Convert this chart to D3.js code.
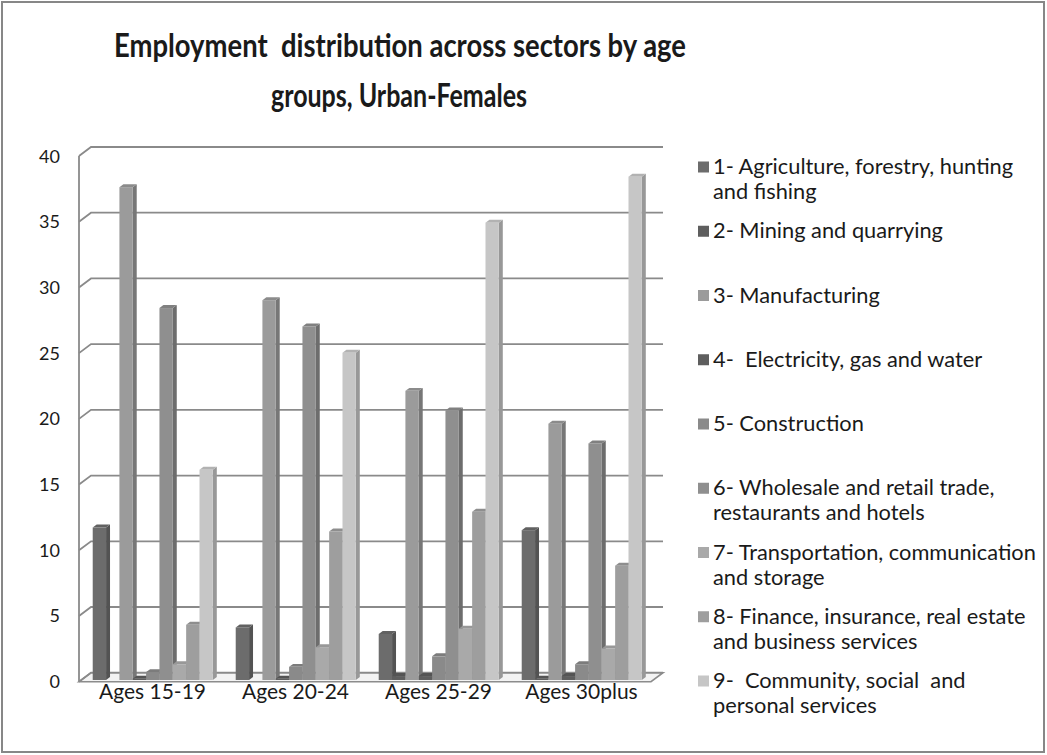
<!DOCTYPE html>
<html>
<head>
<meta charset="utf-8">
<script src="https://cdn.jsdelivr.net/npm/d3@7"></script>
<style>
  html, body { margin: 0; padding: 0; background: #ffffff; }
  svg { display: block; }
  text { font-family: Lato, "Open Sans", "DejaVu Sans", sans-serif; fill: #1a1a1a; white-space: pre; }
</style>
</head>
<body>
<svg id="chart" width="1047" height="755"></svg>
<script>
// Age groups along the x axis
const categories = ["Ages 15-19", "Ages 20-24", "Ages 25-29", "Ages 30plus"];

// Sector names as shown in the legend (one entry per wrapped line)
const sectorLabels = [
  ["1- Agriculture, forestry, hunting", "and fishing"],
  ["2- Mining and quarrying"],
  ["3- Manufacturing"],
  ["4-  Electricity, gas and water"],
  ["5- Construction"],
  ["6- Wholesale and retail trade,", "restaurants and hotels"],
  ["7- Transportation, communication", "and storage"],
  ["8- Finance, insurance, real estate", "and business services"],
  ["9-  Community, social  and", "personal services"]
];

// Share of employment (%) per sector, one value per age group
const agriculture   = [11.6,  4.0,  3.5, 11.4];
const mining        = [ 0.0,  0.0,  0.3,  0.1];
const manufacturing = [37.5, 28.9, 22.0, 19.5];
const electricity   = [ 0.1,  0.1,  0.3,  0.3];
const construction  = [ 0.6,  1.0,  1.8,  1.2];
const wholesale     = [28.3, 26.9, 20.5, 18.0];
const transport     = [ 1.2,  2.5,  3.9,  2.4];
const finance       = [ 4.2, 11.3, 12.8,  8.7];
const community     = [16.0, 24.9, 34.8, 38.3];

const series = [agriculture, mining, manufacturing, electricity, construction,
                wholesale, transport, finance, community];

// Value axis ticks
const yTicks = [0, 5, 10, 15, 20, 25, 30, 35, 40];

// Grey shades for each sector (front face)
const colors = ["#6c6c6c", "#5e5e5e", "#9b9b9b", "#5e5e5e", "#8a8a8a",
                "#8f8f8f", "#a9a9a9", "#9e9e9e", "#c6c6c6"];

const svg = d3.select("#chart");

// Outer chart frame
svg.append("rect")
  .attr("x", 2).attr("y", 2).attr("width", 1042).attr("height", 750)
  .attr("fill", "#ffffff").attr("stroke", "#878787").attr("stroke-width", 2);

// Title
const title = svg.append("g");
title.append("text").attr("x", 400).attr("y", 57).attr("text-anchor", "middle")
  .attr("font-size", 33).attr("font-weight", 700)
  .attr("textLength", 572).attr("lengthAdjust", "spacingAndGlyphs")
  .text("Employment  distribution across sectors by age");
title.append("text").attr("x", 399).attr("y", 107).attr("text-anchor", "middle")
  .attr("font-size", 33).attr("font-weight", 700)
  .attr("textLength", 256).attr("lengthAdjust", "spacingAndGlyphs")
  .text("groups, Urban-Females");

// Oblique 3-D projection: the floor/walls recede by (DX, DY)
const DX = 12, DY = -9;
const x0 = 79, x1 = 651;

const y = d3.scaleLinear().domain([0, 40]).range([681.7, 156]);
const x = d3.scaleBand().domain(categories).range([x0, x1])
  .paddingInner(0.16).paddingOuter(0.08);
const xs = d3.scaleBand().domain(d3.range(series.length)).range([0, x.bandwidth()]);

const walls = svg.append("g");

// Floor
walls.append("polygon")
  .attr("points", [[x0, y(0)], [x1, y(0)], [x1 + DX, y(0) + DY], [x0 + DX, y(0) + DY]].join(" "))
  .attr("fill", "#f3f3f3").attr("stroke", "#8c8c8c").attr("stroke-width", 1.6);

// Gridlines: diagonal on the side wall, horizontal on the back wall
yTicks.forEach(v => {
  const yf = y(v);
  walls.append("polyline")
    .attr("points", [[x0, yf], [x0 + DX, yf + DY], [x1 + DX, yf + DY]].join(" "))
    .attr("fill", "none").attr("stroke", "#8a8a8a").attr("stroke-width", 1.8);
});
// Front edge of the side wall
walls.append("line")
  .attr("x1", x0).attr("x2", x0).attr("y1", y(40)).attr("y2", y(0))
  .attr("stroke", "#8a8a8a").attr("stroke-width", 1.8);

// Y-axis labels
svg.append("g").selectAll("text").data(yTicks).join("text")
  .attr("x", 60).attr("y", d => y(d) + 6.5)
  .attr("text-anchor", "end").attr("font-size", 18)
  .text(d => d);

// Category labels
svg.append("g").selectAll("text").data(categories).join("text")
  .attr("x", d => x(d) + x.bandwidth() / 2 + 2).attr("y", 699)
  .attr("text-anchor", "middle").attr("font-size", 21)
  .text(d => d);

// Bars: front face, right side face and top face
const f0 = 0.19, f1 = 0.52;
const bx = f0 * DX, by = f0 * DY;
const dd = (f1 - f0) * DX, dv = (f1 - f0) * DY;

function shade(c, k) {
  const col = d3.color(c);
  return k < 0 ? col.darker(-k).formatHex() : col.brighter(k).formatHex();
}

const bars = svg.append("g");
categories.forEach((cat, ci) => {
  series.forEach((vals, si) => {
    const v = vals[ci];
    if (!(v > 0)) return;
    const left = x(cat) + xs(si) + bx;
    const right = left + xs.bandwidth();
    const top = y(v) + by;
    const base = y(0) + by;
    const g = bars.append("g");
    g.append("polygon")
      .attr("points", [[right, base], [right, top], [right + dd, top + dv], [right + dd, base + dv]].join(" "))
      .attr("fill", shade(colors[si], -0.75));
    g.append("polygon")
      .attr("points", [[left, top], [right, top], [right + dd, top + dv], [left + dd, top + dv]].join(" "))
      .attr("fill", shade(colors[si], -0.3));
    g.append("rect")
      .attr("x", left).attr("y", top)
      .attr("width", right - left).attr("height", base - top)
      .attr("fill", colors[si]);
  });
});

// Legend
const legendY = d3.scaleLinear().domain([0, 8]).range([167, 681]);
const legend = svg.append("g");
sectorLabels.forEach((lines, i) => {
  const yy = legendY(i);
  legend.append("rect")
    .attr("x", 698).attr("y", yy - 5.5).attr("width", 11).attr("height", 11)
    .attr("fill", colors[i]);
  lines.forEach((ln, k) => {
    legend.append("text")
      .attr("x", 713).attr("y", yy + 7 + k * 25)
      .attr("font-size", 21.8)
      .text(ln);
  });
});
</script>
</body>
</html>
